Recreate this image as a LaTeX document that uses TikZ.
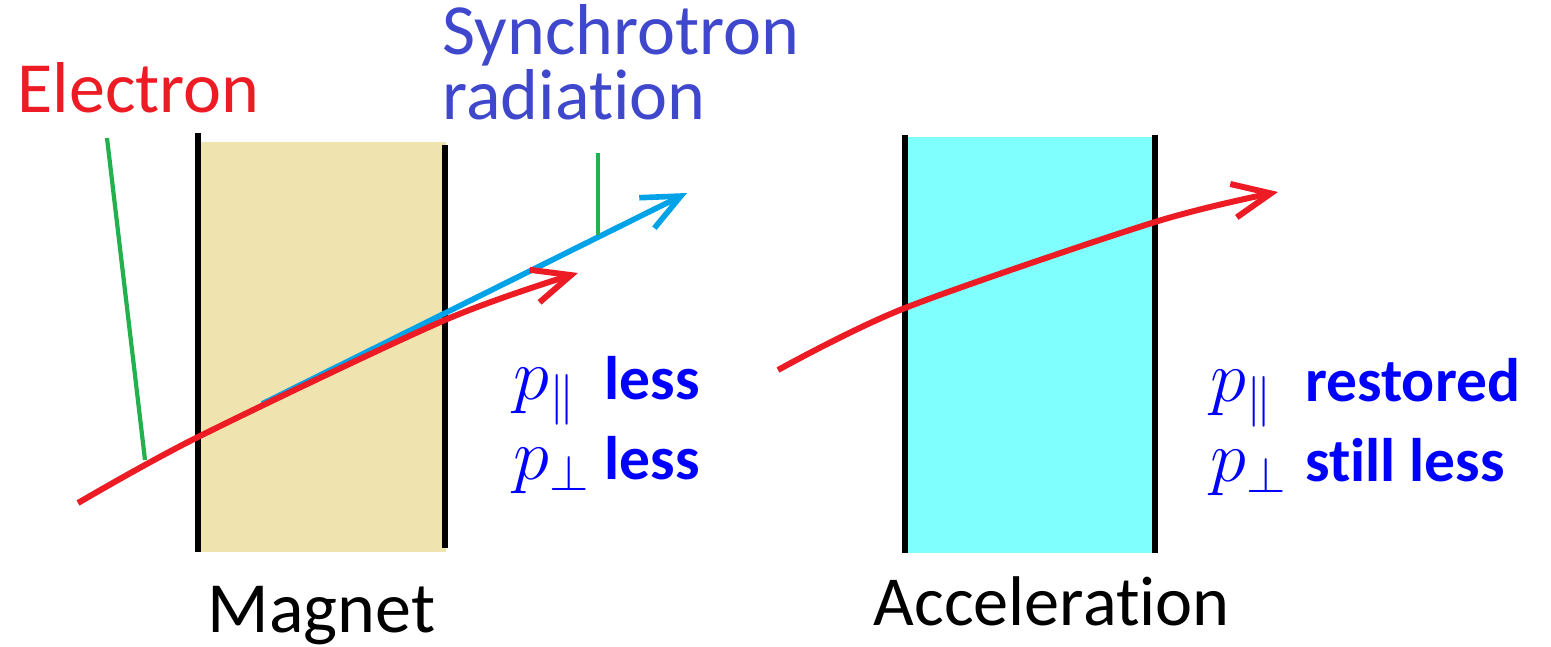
\documentclass[tikz,border=0pt]{standalone}
\usepackage{fontspec}
\setmainfont{Carlito}[Ligatures={NoCommon}]
\usetikzlibrary{arrows.meta}

\definecolor{magnettan}{HTML}{EFE4B0}
\definecolor{accelcyan}{HTML}{80FFFF}
\definecolor{elred}{HTML}{ED1C24}
\definecolor{radblue}{HTML}{00A2E8}
\definecolor{pointgreen}{HTML}{22B14C}
\definecolor{syncblue}{HTML}{3F48CC}
\definecolor{pblue}{HTML}{0000FF}

\newcommand\ptext[1]{{\fontsize{17.5}{22}\selectfont\bfseries #1}}

\begin{document}
\begin{tikzpicture}[
  wall/.style={line width=1.7pt},
  barb/.style={-{Straight Barb[length=3.8mm,width=3.4mm]}},
  beam/.style={line width=1.7pt, elred, barb},
  pointer/.style={line width=1.2pt, pointgreen},
  bigtext/.style={font=\fontsize{20.5}{16.2}\selectfont, inner sep=0pt},
  plbl/.style={font=\fontsize{20}{22}\selectfont, text=pblue, inner sep=0pt, anchor=base west}
]
\useasboundingbox (0,0) rectangle (15.51,6.47);

% magnet and accelerating gap
\fill[magnettan] (1.97,0.95) rectangle (4.46,5.05);
\draw[wall] (1.98,0.95) -- (1.98,5.14);
\draw[wall] (4.45,0.99) -- (4.45,5.02);
\fill[accelcyan] (9.05,0.94) rectangle (11.55,5.10);
\draw[wall] (9.05,0.94) -- (9.05,5.12);
\draw[wall] (11.55,0.94) -- (11.55,5.12);

% photon and electron paths
\draw[line width=1.6pt, radblue, barb] (2.62,2.43) -- (6.87,4.54);
\draw[beam] plot[smooth] coordinates {(0.78,1.44) (1.98,2.10) (4.45,3.27) (5.78,3.74)};
\draw[beam] plot[smooth] coordinates {(7.78,2.77) (9.05,3.39) (11.55,4.25) (12.78,4.55)};

% labels
\node[bigtext, text=elred, anchor=base west] (electron) at (0.17,5.34) {Electron};
\node[bigtext, text=syncblue, anchor=base west, align=left] (synch) at (4.42,5.27) {Synchrotron\\radiation};
\node[bigtext, anchor=base west] (magnet) at (2.07,0.14) {Magnet};
\node[bigtext, anchor=base west, font=\fontsize{20}{16.2}\selectfont] (accel) at (8.73,0.22) {Acceleration};

\coordinate (eltip) at (1.07,5.09);
\coordinate (elfoot) at (1.45,1.87);
\coordinate (radtip) at (5.98,4.94);
\coordinate (radfoot) at (5.98,4.12);
\draw[pointer] (eltip) -- (elfoot);
\draw[pointer] (radtip) -- (radfoot);

\node[plbl] (pless) at (5.13,2.47) {\begin{tabular}[t]{@{}l@{\hspace{4pt}}l@{}}
  $p_\parallel$ & \ptext{less}\\
  $p_\perp$ & \ptext{less}
\end{tabular}};
\node[plbl] (prest) at (12.10,2.45) {\begin{tabular}[t]{@{}l@{\hspace{5pt}}l@{}}
  $p_\parallel$ & \ptext{restored}\\
  $p_\perp$ & \ptext{still less}
\end{tabular}};
\end{tikzpicture}
\end{document}
